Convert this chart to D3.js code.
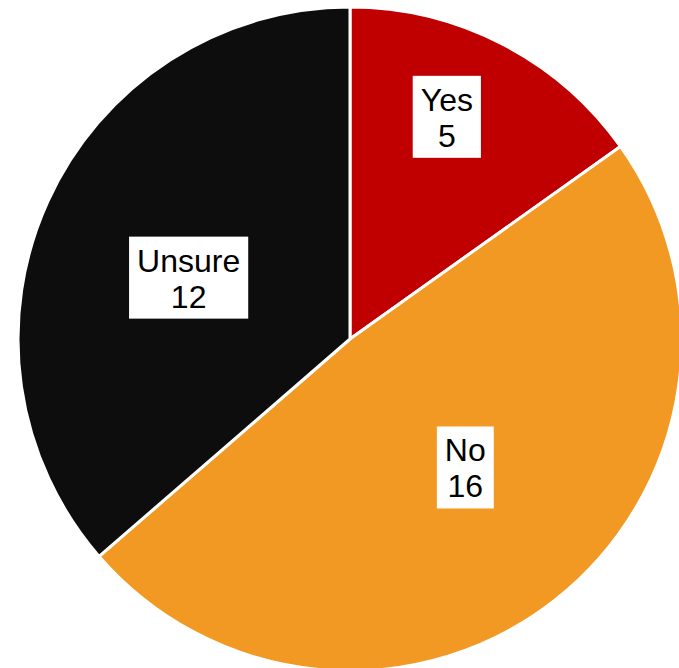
<!DOCTYPE html>
<html lang="en">
<head>
<meta charset="utf-8">
<title>Pie</title>
<style>
  body { margin: 0; background: #fff; }
  svg { display: block; }
  .label text { font-family: "Liberation Sans", Arial, sans-serif; font-size: 32px; fill: #000; text-anchor: middle; }
</style>
</head>
<body>
<svg id="chart" width="679" height="668"></svg>
<script src="https://d3js.org/d3.v7.min.js"></script>
<script>
const categories = ["Yes", "No", "Unsure"];
const counts = [5, 16, 12];
const colours = ["#c00000", "#f29924", "#0d0d0d"];

const data = categories.map((c, i) => ({ name: c, value: counts[i] }));

const svg = d3.select("#chart");
const CX = 350, CY = 339, R = 332;

const g = svg.append("g").attr("transform", "translate(" + CX + "," + CY + ")");

const pie = d3.pie().value(d => d.value).sort(null);
const arc = d3.arc().innerRadius(0).outerRadius(R);
const arcs = pie(data);
const total = d3.sum(counts);

g.selectAll("path.slice")
  .data(arcs)
  .enter()
  .append("path")
  .attr("class", "slice")
  .attr("d", arc)
  .attr("fill", (d, i) => colours[i])
  .attr("stroke", "#fff")
  .attr("stroke-width", 3)
  .attr("stroke-linejoin", "round");

// label placement, small slices pushed outward like the spreadsheet does
function labelPos(d) {
  const share = d.data.value / total;
  const rr = share < 0.2 ? R * 0.73 : R * 0.52;
  const a = (d.startAngle + d.endAngle) / 2 - 0.065;
  return [Math.sin(a) * rr, -Math.cos(a) * rr];
}

const lab = g.selectAll("g.label")
  .data(arcs)
  .enter()
  .append("g")
  .attr("class", "label")
  .attr("transform", d => "translate(" + labelPos(d) + ")");

const rects = lab.append("rect").attr("fill", "#fff");

lab.append("text")
  .attr("y", -6)
  .text(d => d.data.name);
lab.append("text")
  .attr("y", 30)
  .text(d => d.data.value);

lab.each(function () {
  const node = d3.select(this);
  let w = 0;
  node.selectAll("text").each(function () { w = Math.max(w, this.getComputedTextLength()); });
  node.select("rect")
    .attr("x", -w / 2 - 8)
    .attr("y", -41)
    .attr("width", w + 16)
    .attr("height", 82);
});
</script>
</body>
</html>
